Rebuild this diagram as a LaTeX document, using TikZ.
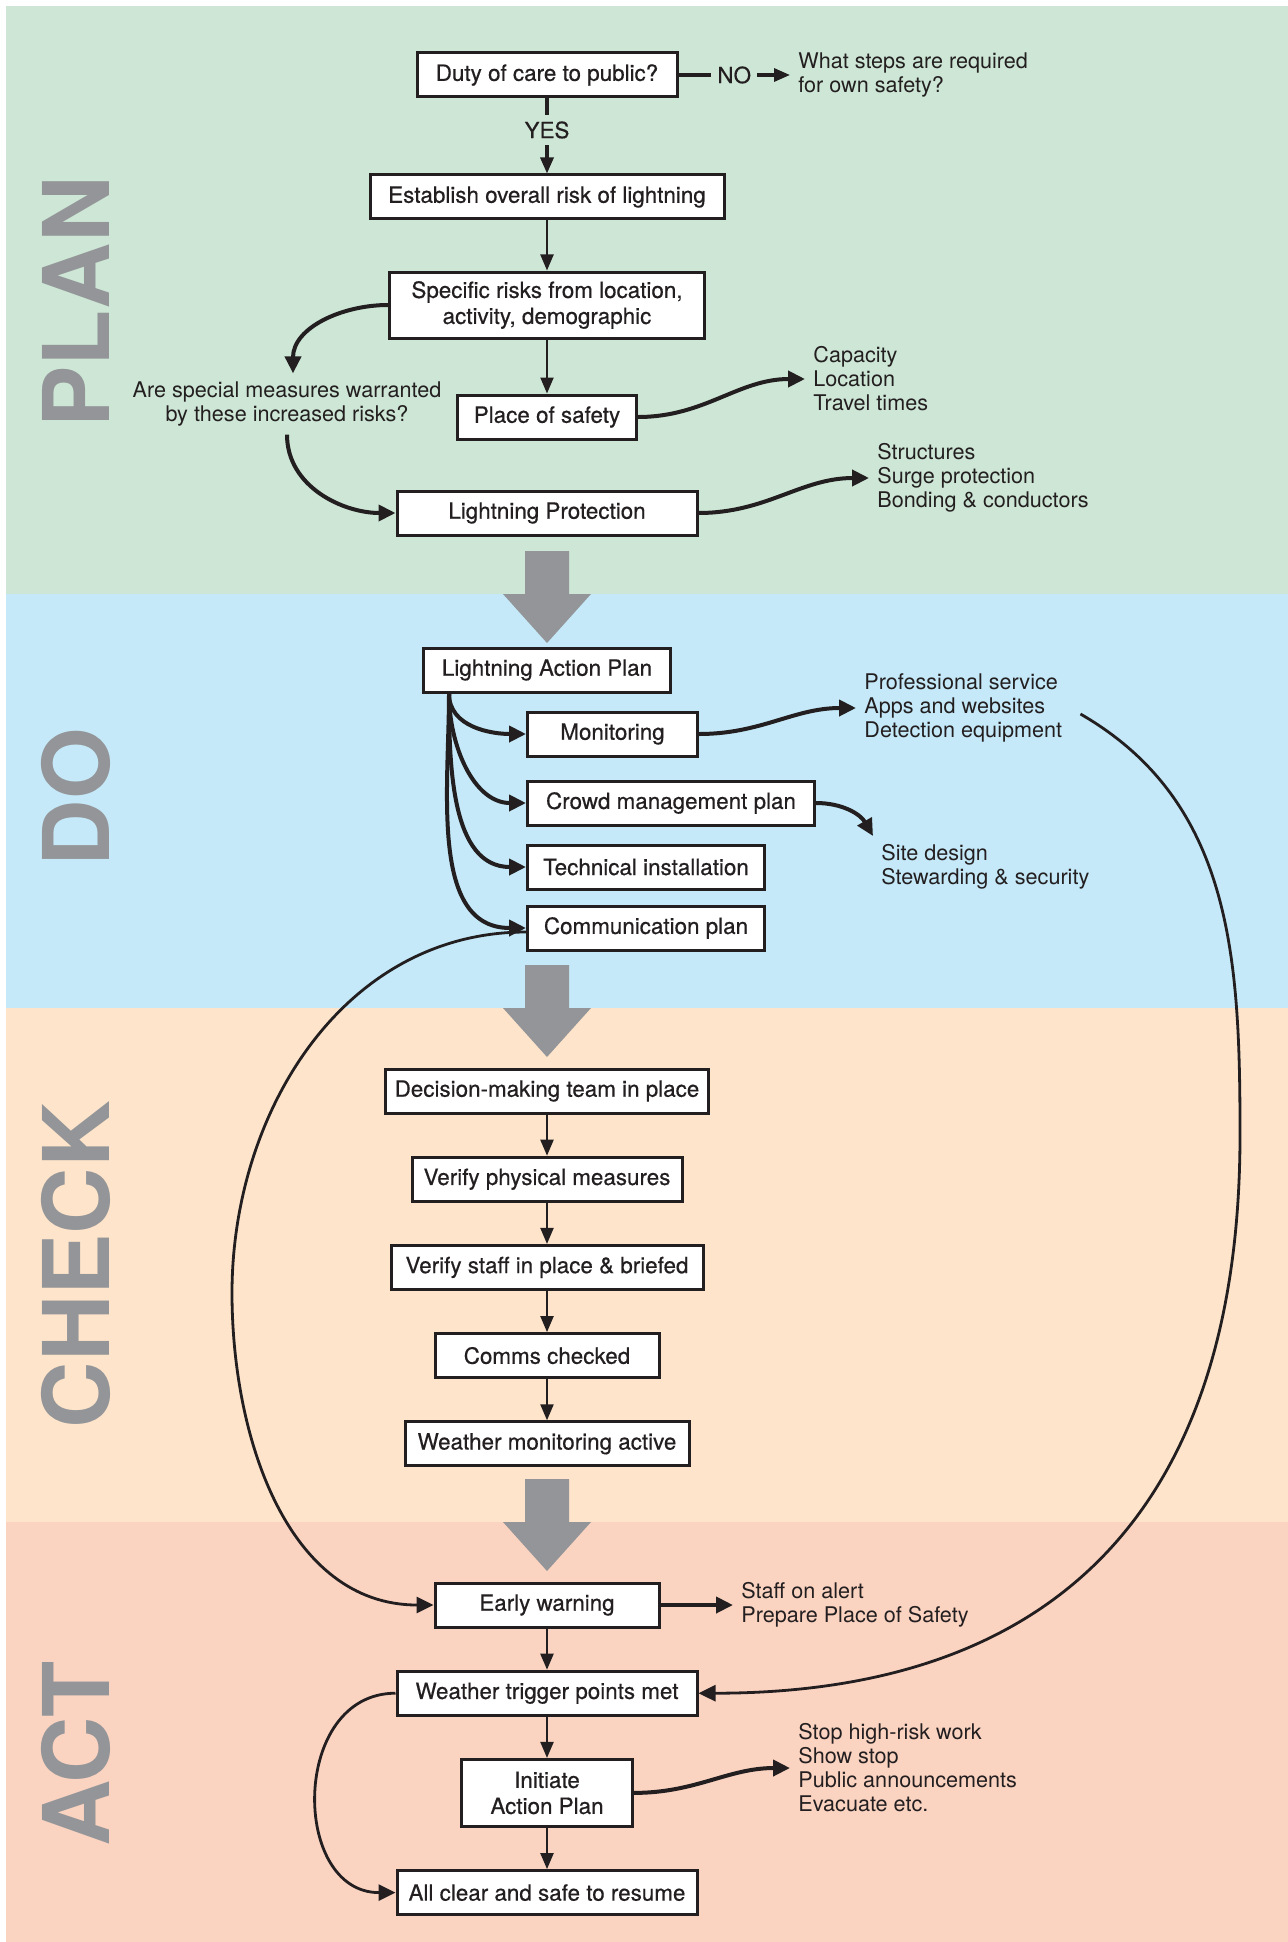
\documentclass[tikz,border=0pt]{standalone}
\usepackage{fontspec}
\setmainfont{TeX Gyre Heros}
\newfontfamily\boxfont[FakeBold=0.5]{TeX Gyre Heros}
\usetikzlibrary{calc,positioning,arrows.meta}

\definecolor{planbg}{RGB}{205,230,213}
\definecolor{dobg}{RGB}{197,233,248}
\definecolor{checkbg}{RGB}{254,228,202}
\definecolor{actbg}{RGB}{250,211,193}
\definecolor{phasegrey}{RGB}{147,149,152}
\definecolor{ink}{RGB}{35,31,32}

\begin{document}
\begin{tikzpicture}[x=0.5pt,y=0.5pt,node distance=20.6pt and 20.6pt]

\tikzset{stepbox/.style={draw=ink,line width=1.5pt,fill=white,text=ink,font=\boxfont\fontsize{11.2}{13}\selectfont,inner xsep=3pt,inner ysep=3pt,minimum height=22pt,minimum width=#1,align=center},
stepbox/.default=20pt,
sidetext/.style={text=ink,font=\fontsize{10.8}{12}\selectfont,align=left,inner sep=4pt},
phaselabel/.style={text=phasegrey,font=\fontsize{46}{46}\selectfont\bfseries,rotate=90},
flow/.style={draw=ink,line width=1.1pt,-{Triangle[length=8pt,width=6.5pt]}},
curvearrow/.style={draw=ink,line width=2pt,-{Triangle[length=8.5pt,width=8pt]}},
longbend/.style={draw=ink,line width=1.4pt,-{Triangle[length=8.5pt,width=8pt]}},
yesno/.style={fill=planbg,text=ink,font=\boxfont\fontsize{11.2}{13}\selectfont,inner sep=3pt}}

\useasboundingbox (0,0) rectangle (1288,-1942);

% phase bands
\fill[planbg] (6,-6) rectangle (1288,-594);
\fill[dobg] (6,-594) rectangle (1288,-1008);
\fill[checkbg] (6,-1008) rectangle (1288,-1522);
\fill[actbg] (6,-1522) rectangle (1288,-1942);

% big grey arrows between phases
\foreach \b in {594,1008,1522}
  \fill[phasegrey] (525,{43-\b}) -- (569,{43-\b}) -- (569,-\b) -- (591,-\b) -- (547,{-49-\b}) -- (503,-\b) -- (525,-\b) -- cycle;

% phase names
\node[phaselabel] (plan) at (76,-302) {PLAN};
\node[phaselabel] (do) at (76,-797) {DO};
\node[phaselabel] (check) at (76,-1265) {CHECK};
\node[phaselabel] (act) at (76,-1754) {ACT};

% plan nodes
\node[stepbox=130pt] (duty) at (547,-75) {Duty of care to public?};
\node[sidetext,anchor=west] (ownsafety) at (790,-75) {What steps are required\\for own safety?};
\node[stepbox=177pt] (overall) at (547,-197) {Establish overall risk of lightning};
\node[stepbox=157.5pt,minimum height=33pt] (specific) at (547,-305) {Specific risks from location,\\activity, demographic};
\node[sidetext,align=center] (special) at (287,-404) {Are special measures warranted\\by these increased risks?};
\node[stepbox=89.5pt] (safety) at (547,-417) {Place of safety};
\node[sidetext,anchor=west] (capacity) at (805,-379) {Capacity\\Location\\Travel times};
\node[stepbox=150pt] (protection) at (547,-513) {Lightning Protection};
\node[sidetext,anchor=west] (structures) at (869,-478) {Structures\\Surge protection\\Bonding \& conductors};

% do nodes
\node[stepbox=123.5pt] (actionplan) at (547,-670) {Lightning Action Plan};
\node[stepbox=85pt,anchor=west] (monitoring) at (526,-734) {Monitoring};
\node[stepbox=143.5pt,anchor=west] (crowd) at (526,-803) {Crowd management plan};
\node[stepbox=118.5pt,anchor=west] (technical) at (526,-867) {Technical installation};
\node[stepbox=118.5pt,anchor=west] (communication) at (526,-928) {Communication plan};
\node[sidetext,anchor=west] (services) at (856,-708) {Professional service\\Apps and websites\\Detection equipment};
\node[sidetext,anchor=north west] (sitedesign) at (873,-836) {Site design\\Stewarding \& security};

% check nodes
\node[stepbox=161.5pt] (team) at (547,-1091) {Decision-making team in place};
\node[stepbox=135pt,below=of team] (physical) {Verify physical measures};
\node[stepbox=156pt,below=of physical] (briefed) {Verify staff in place \& briefed};
\node[stepbox=112pt,below=of briefed] (comms) {Comms checked};
\node[stepbox=142pt,below=of comms] (weather) {Weather monitoring active};

% act nodes
\node[stepbox=112pt] (early) at (547,-1605) {Early warning};
\node[sidetext,anchor=west] (alert) at (733,-1605) {Staff on alert\\Prepare Place of Safety};
\node[stepbox=150pt,below=of early] (trigger) {Weather trigger points met};
\node[stepbox=85.5pt,minimum height=33.5pt,below=of trigger] (initiate) {Initiate\\Action Plan};
\node[stepbox=150pt,below=of initiate] (allclear) {All clear and safe to resume};
\node[sidetext,anchor=west] (stopwork) at (790,-1768) {Stop high-risk work\\Show stop\\Public announcements\\Evacuate etc.};

% plan edges
\draw[flow,line width=1.6pt] (duty) -- node[yesno] {NO} (ownsafety);
\draw[flow,line width=1.6pt] (duty) -- node[yesno,pos=0.42] {YES} (overall);
\draw[flow] (overall) -- (specific);
\draw[flow] (specific) -- (safety);
\draw[curvearrow] (specific.west) to[out=180,in=90] ($(special.north)+(6,0)$);
\draw[curvearrow] (special.south) to[out=-90,in=180] (protection.west);
\draw[curvearrow] (safety.east) to[out=0,in=180] (capacity.west);
\draw[curvearrow] (protection.east) to[out=0,in=180] (structures.west);

% do edges
\coordinate (fan) at ($(actionplan.south west)+(27,0)$);
\foreach \target in {monitoring,crowd,technical,communication}
  \draw[curvearrow] (fan) to[out=-90,in=180] (\target.west);
\draw[curvearrow] (monitoring.east) to[out=0,in=180] (services.west);
\draw[curvearrow] (crowd.east) to[out=0,in=120] (sitedesign.north west);

% check edges
\foreach \a/\b in {team/physical,physical/briefed,briefed/comms,comms/weather}
  \draw[flow] (\a) -- (\b);

% act edges
\draw[flow] (early) -- (trigger);
\draw[flow] (trigger) -- (initiate);
\draw[flow] (initiate) -- (allclear);
\draw[curvearrow] (early.east) -- (early.east -| alert.west);
\draw[curvearrow] (initiate.east) to[out=0,in=180] (stopwork.west);
\draw[longbend] (trigger.west) to[out=180,in=180,looseness=1.35] (allclear.west);

% long loops back into act
\coordinate (leftturn) at (232,-1293);
\coordinate (rightturn) at (1240,-1135);
\coordinate (servicesend) at ($(services.east)+(10,-6)$);
\draw[longbend] ($(communication.west)+(0,-4)$) to[out=180,in=90] (leftturn) to[out=-90,in=180] (early.west);
\draw[longbend] (servicesend) to[out=-30,in=90] (rightturn) to[out=-90,in=0,looseness=1.2] (trigger.east);

\end{tikzpicture}
\end{document}
